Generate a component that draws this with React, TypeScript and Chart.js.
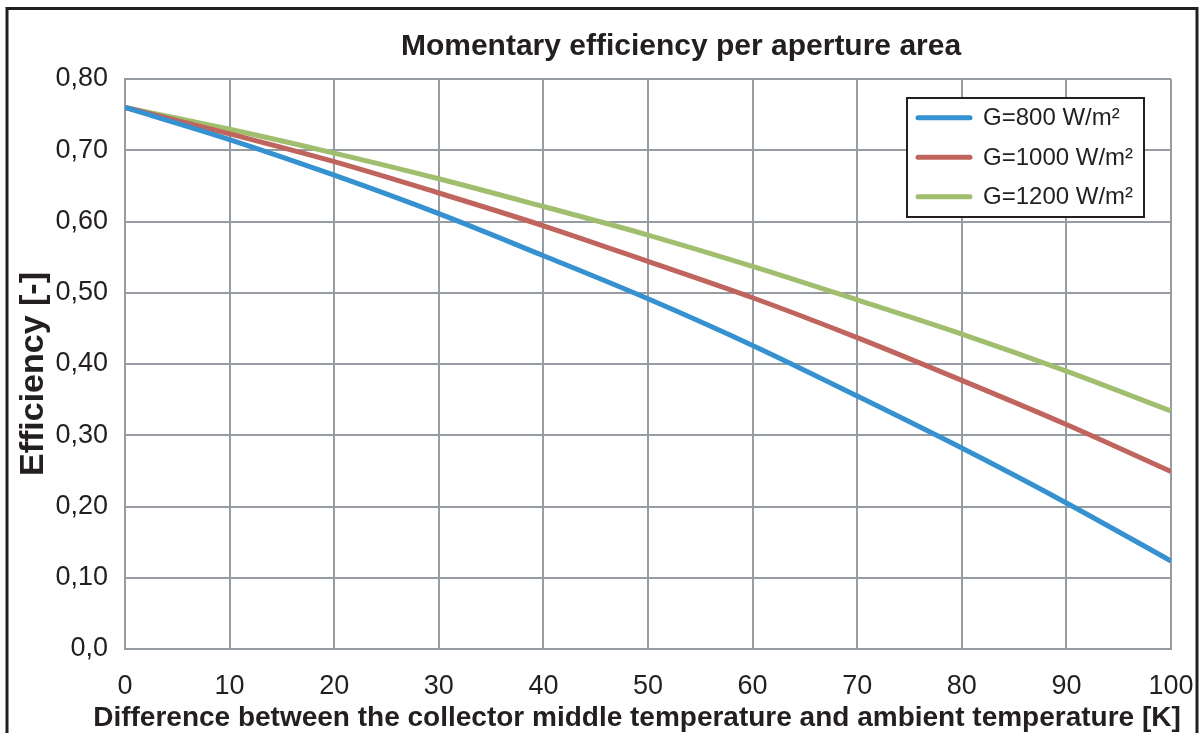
import React, { useEffect, useRef } from "react";
import { Chart, registerables } from "chart.js";

Chart.register(...registerables);

const xValues = [0, 10, 20, 30, 40, 50, 60, 70, 80, 90, 100];
const g800 = [0.76, 0.715, 0.665, 0.611, 0.552, 0.4915, 0.426, 0.355, 0.282, 0.205, 0.1235];
const g1000 = [0.76, 0.723, 0.684, 0.64, 0.594, 0.544, 0.493, 0.437, 0.377, 0.315, 0.249];
const g1200 = [0.76, 0.7295, 0.696, 0.66, 0.621, 0.581, 0.537, 0.49, 0.442, 0.39, 0.334];
const seriesLabels = ["G=800 W/m²", "G=1000 W/m²", "G=1200 W/m²"];
const seriesColors = ["#3591cf", "#c0645e", "#a0be6e"];
const yTickLabels = ["0,0", "0,10", "0,20", "0,30", "0,40", "0,50", "0,60", "0,70", "0,80"];
const xTickLabels = ["0", "10", "20", "30", "40", "50", "60", "70", "80", "90", "100"];
const titleText = "Momentary efficiency per aperture area";
const xTitle = "Difference between the collector middle temperature and ambient temperature [K]";
const yTitle = "Efficiency [-]";

const FONT = '"Liberation Sans", Arial, sans-serif';
const TEXT = "#231f20";
const GRID = "#979ba2";

const decorPlugin = {
  id: "decor",
  afterDraw(chart: any) {
    const ctx = chart.ctx;
    ctx.save();
    ctx.strokeStyle = TEXT;
    ctx.lineWidth = 3;
    ctx.strokeRect(7, 8.5, 1190, 800);
    ctx.fillStyle = TEXT;
    ctx.font = `bold 30px ${FONT}`;
    ctx.textAlign = "center";
    ctx.textBaseline = "alphabetic";
    ctx.fillText(titleText, 681, 55);
    ctx.font = `bold 28px ${FONT}`;
    ctx.fillText(xTitle, 637, 726);
    ctx.save();
    ctx.translate(43, 374);
    ctx.rotate(-Math.PI / 2);
    ctx.font = `bold 34px ${FONT}`;
    ctx.fillText(yTitle, 0, 0);
    ctx.restore();
    const lx = 907, ly = 98, lw = 237, lh = 119;
    ctx.fillStyle = "#ffffff";
    ctx.fillRect(lx, ly, lw, lh);
    ctx.strokeStyle = TEXT;
    ctx.lineWidth = 2;
    ctx.strokeRect(lx, ly, lw, lh);
    const rows = [117.7, 157.3, 196.7];
    chart.data.datasets.forEach((ds: any, i: number) => {
      const y = rows[i];
      ctx.strokeStyle = ds.borderColor;
      ctx.lineWidth = 5;
      ctx.lineCap = "round";
      ctx.beginPath();
      ctx.moveTo(918, y);
      ctx.lineTo(970, y);
      ctx.stroke();
      ctx.fillStyle = TEXT;
      ctx.font = `24px ${FONT}`;
      ctx.textAlign = "left";
      ctx.textBaseline = "middle";
      ctx.fillText(ds.label, 983, y + 1);
    });
    ctx.restore();
  },
};

export default function App() {
  const ref = useRef<HTMLCanvasElement | null>(null);
  useEffect(() => {
    if (!ref.current) return;
    const tickFont = { family: FONT, size: 27 };
    const datasets = [g800, g1000, g1200].map((vals, i) => ({
      label: seriesLabels[i],
      data: xValues.map((x, j) => ({ x, y: vals[j] })),
      borderColor: seriesColors[i],
      backgroundColor: seriesColors[i],
      borderWidth: 5,
      pointRadius: 0,
      cubicInterpolationMode: "monotone" as const,
      fill: false,
    }));
    const chart = new Chart(ref.current, {
      type: "line",
      data: { datasets },
      options: {
        animation: false,
        responsive: false,
        layout: { padding: { left: 0, top: 79, right: 31, bottom: 0 } },
        plugins: { legend: { display: false }, title: { display: false }, tooltip: { enabled: false } },
        scales: {
          x: {
            type: "linear",
            min: 0,
            max: 100,
            afterFit: (s: any) => {
              s.height = 84;
              s.paddingRight = 0;
              s.paddingLeft = 0;
            },
            ticks: {
              stepSize: 10,
              autoSkip: false,
              maxRotation: 0,
              padding: 21,
              color: TEXT,
              font: tickFont,
              callback: (_v: any, i: number) => xTickLabels[i],
            },
            grid: { color: GRID, lineWidth: 2, drawTicks: false },
            border: { color: GRID, width: 2 },
          },
          y: {
            min: 0,
            max: 0.8,
            afterFit: (s: any) => {
              s.width = 125;
              s.paddingTop = 0;
              s.paddingBottom = 0;
            },
            ticks: {
              stepSize: 0.1,
              autoSkip: false,
              padding: 17,
              color: TEXT,
              font: tickFont,
              callback: (_v: any, i: number) => yTickLabels[i],
            },
            grid: { color: GRID, lineWidth: 2, drawTicks: false },
            border: { color: GRID, width: 2 },
          },
        },
      },
      plugins: [decorPlugin],
    });
    return () => chart.destroy();
  }, []);
  return (
    <div style={{ position: "fixed", left: 0, top: 0, width: 1202, height: 733, background: "#fff" }}>
      <canvas ref={ref} width={1202} height={733} style={{ width: 1202, height: 733, display: "block" }} />
    </div>
  );
}
